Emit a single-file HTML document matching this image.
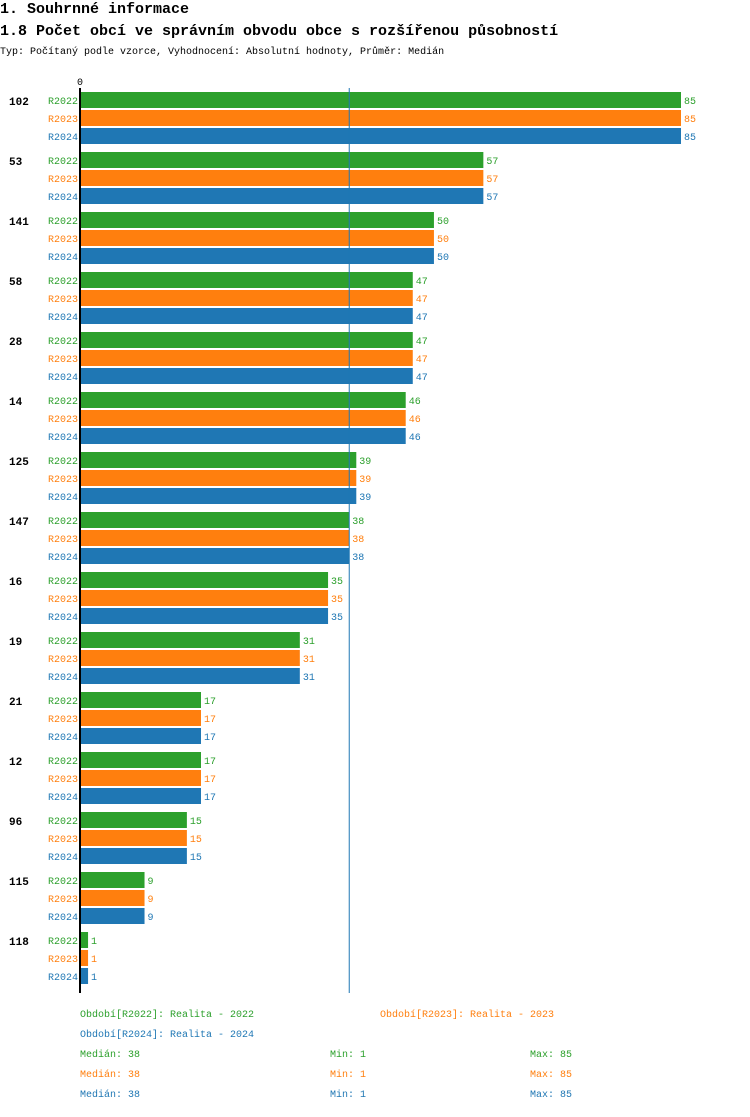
<!DOCTYPE html>
<html><head><meta charset="utf-8"><style>
body{margin:0;background:#fff;width:750px;height:1112px;overflow:hidden;font-family:"Liberation Mono",monospace}
svg text{font-family:"Liberation Mono",monospace}
</style></head><body>
<svg id="c" width="750" height="1112">
<text x="0" y="13" font-size="15" font-weight="bold" fill="#000">1. Souhrnné informace</text>
<text x="0" y="35" font-size="15" font-weight="bold" fill="#000">1.8 Počet obcí ve správním obvodu obce s rozšířenou působností</text>
<text x="0" y="54" font-size="10" fill="#000">Typ: Počítaný podle vzorce, Vyhodnocení: Absolutní hodnoty, Průměr: Medián</text>
<text x="77" y="85" font-size="10" fill="#000">0</text>
</svg>
<script>
const categories=["102","53","141","58","28","14","125","147","16","19","21","12","96","115","118"];
const seriesNames=["R2022","R2023","R2024"];
const r2022=[85,57,50,47,47,46,39,38,35,31,17,17,15,9,1];
const r2023=[85,57,50,47,47,46,39,38,35,31,17,17,15,9,1];
const r2024=[85,57,50,47,47,46,39,38,35,31,17,17,15,9,1];
const medianValue=38;
const colors=["#2ca02c","#ff7f0e","#1f77b4"];
const series=[r2022,r2023,r2024];
const svg=document.getElementById('c');
const NS='http://www.w3.org/2000/svg';
const x=v=>81+v*(600/85);
const gy=i=>92+i*60;
function mk(t,a){const e=document.createElementNS(NS,t);for(const k in a)e.setAttribute(k,a[k]);svg.appendChild(e);return e;}
categories.forEach((c,i)=>{
  const t=mk('text',{x:9,y:gy(i)+13,'font-size':11,'font-weight':'bold',fill:'#000'});t.textContent=c;
  
  
  series.forEach((s,j)=>{
    const y=gy(i)+j*18;
    const r=mk('rect',{x:81,y:y,width:x(s[i])-81,height:16,fill:colors[j]});
    
    
    const l=mk('text',{x:78,y:y+12,'font-size':10,fill:colors[j],'text-anchor':'end'});l.textContent=seriesNames[j];
    
    
    const v=mk('text',{x:x(s[i])+3,y:y+12,'font-size':10,fill:colors[j]});v.textContent=s[i];
    
    
  });
});
const ax=mk('line',{x1:80,y1:88,x2:80,y2:993,stroke:'#000','stroke-width':2});


const ml=mk('line',{x1:x(medianValue),y1:88,x2:x(medianValue),y2:993,stroke:'#1f77b4','stroke-width':1});


const legend=[[80,1017,colors[0],"Období[R2022]: Realita - 2022"],[380,1017,colors[1],"Období[R2023]: Realita - 2023"],[80,1037,colors[2],"Období[R2024]: Realita - 2024"]];
legend.forEach(L=>{const t=mk('text',{x:L[0],y:L[1],'font-size':10,fill:L[2]});t.textContent=L[3];
  
  });
series.forEach((s,j)=>{
  const y=1057+j*20;
  const sorted=[...s].sort((a,b)=>a-b);const n=sorted.length;
  const med=n%2?sorted[(n-1)/2]:(sorted[n/2-1]+sorted[n/2])/2;
  [[80,"Medián: "+med],[330,"Min: "+Math.min(...s)],[530,"Max: "+Math.max(...s)]].forEach(p=>{
    const t=mk('text',{x:p[0],y:y,'font-size':10,fill:colors[j]});t.textContent=p[1];
    
    
  });
});
</script>
</body></html>
